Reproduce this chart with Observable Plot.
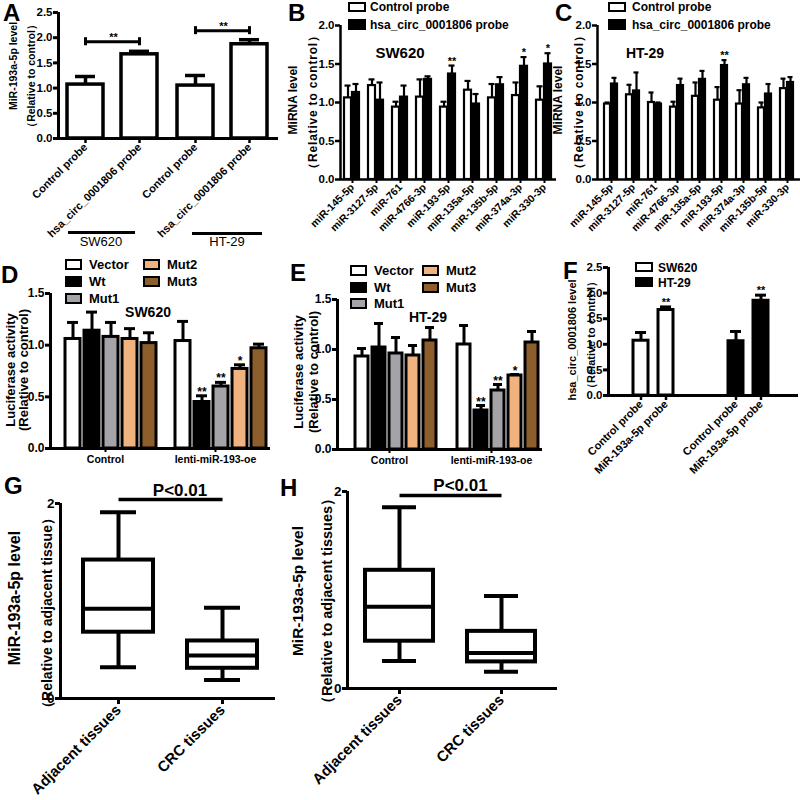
<!DOCTYPE html>
<html><head><meta charset="utf-8">
<script src="https://cdn.jsdelivr.net/npm/d3@7"></script>
<script src="https://cdn.jsdelivr.net/npm/@observablehq/plot@0.6"></script>
<style>
html,body{margin:0;padding:0;background:#fff;}
#fig{position:relative;width:800px;height:800px;overflow:hidden;background:#fff;font-family:"Liberation Sans",Arial,sans-serif;font-weight:bold;color:#000;}
#fig svg{position:absolute;overflow:visible;}
.t{position:absolute;white-space:nowrap;line-height:1;}
.sw{position:absolute;box-sizing:border-box;border:2.5px solid #000;}
.hl{position:absolute;background:#000;}
</style></head><body><div id="fig"></div>
<script>
// ================= DATA =================
// Panel A
const aGroups = ["SW620", "HT-29"];
const aProbes = ["Control probe", "hsa_circ_0001806 probe"];
const aMean = [1.07, 1.67, 1.05, 1.87];
const aErr = [0.16, 0.06, 0.20, 0.09];
const aBracketY = [1.92, 2.14];
const aBracketText = ["**", "**"];
const aYTicks = [0, 0.5, 1, 1.5, 2, 2.5];

// Panel B (SW620)
const bcProbes = ["Control probe", "hsa_circ_0001806 probe"];
const bMirs = ["miR-145-5p","miR-3127-5p","miR-761","miR-4766-3p","miR-193-5p","miR-135a-5p","miR-135b-5p","miR-374a-3p","miR-330-3p"];
const bCtrl = [1.06, 1.22, 0.94, 1.07, 0.94, 1.16, 1.06, 1.09, 1.03];
const bCtrlErr = [0.16, 0.08, 0.07, 0.23, 0.07, 0.12, 0.18, 0.17, 0.18];
const bProbe = [1.13, 1.03, 1.07, 1.30, 1.37, 0.98, 1.23, 1.47, 1.50];
const bProbeErr = [0.11, 0.23, 0.15, 0.04, 0.11, 0.13, 0.10, 0.12, 0.14];
const bStars = ["", "", "", "", "**", "", "", "*", "*"];

// Panel C (HT-29)
const cMirs = ["miR-145-5p","miR-3127-5p","miR-761","miR-4766-3p","miR-135a-5p","miR-193-5p","miR-374a-3p","miR-135b-5p","miR-330-3p"];
const cCtrl = [0.98, 1.10, 1.00, 0.94, 1.08, 1.03, 0.98, 0.93, 1.18];
const cCtrlErr = [0.02, 0.13, 0.13, 0.07, 0.18, 0.17, 0.18, 0.07, 0.13];
const cProbe = [1.24, 1.15, 0.98, 1.22, 1.30, 1.48, 1.23, 1.11, 1.26];
const cProbeErr = [0.08, 0.24, 0.02, 0.09, 0.11, 0.07, 0.09, 0.13, 0.07];
const cStars = ["", "", "", "", "", "**", "", "", ""];
const bcYTicks = [0, 0.5, 1, 1.5, 2];

// Panels D / E (luciferase)
const deGroups = ["Control", "lenti-miR-193-oe"];
const deSeries = ["Vector", "Wt", "Mut1", "Mut2", "Mut3"];
const deColors = ["#ffffff", "#000000", "#a3a3a8", "#f0b27e", "#8c5e2c"];
const dCtrl = [1.06, 1.14, 1.08, 1.06, 1.02];
const dCtrlErr = [0.16, 0.18, 0.14, 0.10, 0.10];
const dLenti = [1.04, 0.45, 0.60, 0.77, 0.97];
const dLentiErr = [0.19, 0.06, 0.04, 0.04, 0.04];
const eCtrl = [0.93, 1.02, 0.96, 0.94, 1.09];
const eCtrlErr = [0.08, 0.24, 0.16, 0.10, 0.13];
const eLenti = [1.05, 0.39, 0.59, 0.74, 1.07];
const eLentiErr = [0.19, 0.05, 0.06, 0.01, 0.11];
const deLentiStars = ["", "**", "**", "*", ""];
const deYTicks = [0, 0.5, 1, 1.5];

// Panel F
const fGroups = ["SW620", "HT-29"];
const fProbes = ["Control probe", "MiR-193a-5p probe"];
const fColors = ["#ffffff", "#000000"];
const fMean = [1.07, 1.67, 1.06, 1.85];
const fErr = [0.16, 0.06, 0.19, 0.11];
const fStars = ["", "**", "", "**"];
const fYTicks = [0, 0.5, 1, 1.5, 2, 2.5];

// Panels G / H (box plots)
const boxCats = ["Adjacent tissues", "CRC tissues"];
const gMin = [0.32, 0.19], gQ1 = [0.68, 0.31], gMed = [0.92, 0.44], gQ3 = [1.42, 0.59], gMax = [1.91, 0.93];
const hMin = [0.28, 0.17], hQ1 = [0.48, 0.27], hMed = [0.83, 0.36], hQ3 = [1.20, 0.58], hMax = [1.84, 0.94];
const ghYTicks = [0, 2];
const ghPText = "P<0.01";

// ================= HELPERS =================
const fig = document.getElementById("fig");
const STYLE = "background:transparent;overflow:visible;font-family:'Liberation Sans',Arial,sans-serif;font-weight:bold;color:#000;";
function put(node, left, top) { node.style.position = "absolute"; node.style.left = left + "px"; node.style.top = top + "px"; fig.appendChild(node); }
function dims(f) {
  return {width: f.x1 + f.mr - f.L, height: f.y1 + f.mb - f.T, marginLeft: f.x0 - f.L, marginRight: f.mr, marginTop: f.y0 - f.T, marginBottom: f.mb};
}
function txt(s, x, base, size, o = {}) {
  const d = document.createElement("div"); d.className = "t"; d.textContent = s;
  d.style.fontSize = size + "px"; d.style.fontWeight = o.weight || "bold";
  d.style.left = x + "px"; d.style.top = (base - 0.847 * size) + "px";
  if (o.anchor === "middle") d.style.transform = "translateX(-50%)";
  if (o.ls) d.style.letterSpacing = o.ls + "px";
  fig.appendChild(d);
}
function vtxt(s, cx, cy, size, o = {}) {
  const d = document.createElement("div"); d.className = "t"; d.textContent = s;
  d.style.fontSize = size + "px"; d.style.fontWeight = o.weight || "bold";
  d.style.left = cx + "px"; d.style.top = cy + "px";
  d.style.transform = "translate(-50%,-50%) rotate(-90deg)";
  if (o.ls) d.style.letterSpacing = o.ls + "px";
  fig.appendChild(d);
}
function swatch(x, y, w, h, color) {
  const d = document.createElement("div"); d.className = "sw";
  Object.assign(d.style, {left: x + "px", top: y + "px", width: w + "px", height: h + "px", background: color});
  fig.appendChild(d);
}
function hline(x1, x2, y, t) {
  const d = document.createElement("div"); d.className = "hl";
  Object.assign(d.style, {left: x1 + "px", top: (y - t / 2) + "px", width: (x2 - x1) + "px", height: t + "px"});
  fig.appendChild(d);
}
function axesOverlay(f, yDomain, ticks, fmt, fs, sw = 3) {
  const svg = Plot.plot({...dims(f), style: STYLE,
    x: {domain: [0, 1], axis: null}, y: {domain: yDomain},
    marks: [
      Plot.axisY({ticks, tickFormat: fmt, tickSize: 5, tickPadding: 1, fontSize: fs, fontWeight: "bold", strokeWidth: sw, label: null}),
      Plot.ruleX([0], {strokeWidth: sw}),
      Plot.ruleY([0], {strokeWidth: sw})
    ]});
  put(svg, f.L, f.T);
}
function barPanel(f, cfg) {
  const rows = cfg.rows;
  const top = d => d.mean + d.err;
  const svg = Plot.plot({...dims(f), style: STYLE,
    fx: cfg.fx, x: cfg.x, y: cfg.y, color: cfg.color,
    marks: [
      Plot.ruleX(rows, {fx: "group", x: "key", y1: "mean", y2: top, strokeWidth: cfg.sw}),
      Plot.tickY(rows, {fx: "group", x: "key", y: top, insetLeft: cfg.cap, insetRight: cfg.cap, strokeWidth: cfg.sw}),
      Plot.barY(rows, {fx: "group", x: "key", y: "mean", fill: cfg.fill, stroke: "black", strokeWidth: cfg.sw}),
      Plot.text(rows, {fx: "group", x: "key", y: top, text: "star", lineAnchor: "bottom", dy: cfg.starDy ?? -1, fontSize: cfg.starSize, fontWeight: "bold"}),
      ...(cfg.extra || []),
      ...cfg.axes
    ]});
  put(svg, f.L, f.T);
}
const fmt1 = d3.format(".1f");

// ================= PANEL A =================
const fA = {L: 0, T: 0, x0: 58, x1: 278, y0: 12, y1: 138, mr: 12, mb: 100};
const aRows = aGroups.flatMap((g, gi) => aProbes.map((p, pi) => ({group: g, key: p, mean: aMean[gi * 2 + pi], err: aErr[gi * 2 + pi], star: ""})));
const aBr = aGroups.map((g, i) => ({group: g, y: aBracketY[i], text: aBracketText[i]}));
const aCaps = aBr.flatMap(b => aProbes.map(p => ({...b, key: p})));
barPanel(fA, {rows: aRows, sw: 3.5, cap: 8, starSize: 11, fill: "white",
  fx: {domain: aGroups, padding: 0, axis: null},
  x: {domain: aProbes, paddingInner: 0.33, paddingOuter: 0.18, align: 0.45},
  y: {domain: [0, 2.5], axis: null},
  extra: [
    Plot.link(aBr, {fx: "group", x1: () => aProbes[0], x2: () => aProbes[1], y1: "y", y2: "y", strokeWidth: 3}),
    Plot.ruleX(aCaps, {fx: "group", x: "key", y1: d => d.y - 0.08, y2: d => d.y + 0.08, strokeWidth: 3}),
    Plot.text(aBr, {fx: "group", y: "y", text: "text", lineAnchor: "bottom", dy: -1, fontSize: 11, fontWeight: "bold"})
  ],
  axes: [Plot.axisX({tickRotate: -45, tickSize: 5, tickPadding: 2, fontSize: 11, fontWeight: "bold", strokeWidth: 2.5, label: null})]
});
axesOverlay(fA, [0, 2.5], aYTicks, fmt1, 11.5);
txt("A", 3, 21, 24);
vtxt("MiR-193a-5p level", 13, 66, 10.5);
vtxt("（Relative to control）", 31, 76, 10.5);
hline(68, 135, 232, 3); txt(aGroups[0], 101, 246, 13, {anchor: "middle", weight: "normal"});
hline(192, 262, 233, 3); txt(aGroups[1], 227, 246, 13, {anchor: "middle", weight: "normal"});

// ================= PANELS B / C =================
function pairRows(mirs, ctrl, ctrlErr, probe, probeErr, stars) {
  return mirs.flatMap((m, i) => [
    {group: m, key: bcProbes[0], mean: ctrl[i], err: ctrlErr[i], star: ""},
    {group: m, key: bcProbes[1], mean: probe[i], err: probeErr[i], star: stars[i]}
  ]);
}
function bcPanel(f, mirs, rows) {
  barPanel(f, {rows, sw: 2.2, cap: 0.5, starSize: 11, fill: "key",
    fx: {domain: mirs, padding: 0},
    x: {domain: bcProbes, paddingInner: 0.1, paddingOuter: 0.5, axis: null},
    y: {domain: [0, 2], axis: null},
    color: {domain: bcProbes, range: ["white", "black"]},
    axes: [Plot.axisFx({anchor: "bottom", tickRotate: -45, tickSize: 4, tickPadding: 2, fontSize: 10.5, fontWeight: "bold", strokeWidth: 2, label: null})]
  });
  axesOverlay(f, [0, 2], bcYTicks, fmt1, 11.5, 2.5);
}
const fB = {L: 290, T: 0, x0: 340, x1: 556, y0: 25, y1: 179, mr: 4, mb: 80};
bcPanel(fB, bMirs, pairRows(bMirs, bCtrl, bCtrlErr, bProbe, bProbeErr, bStars));
txt("B", 288, 21, 24);
swatch(348, 2, 18, 10, "white"); swatch(348, 19, 18, 11, "black");
txt(bcProbes[0], 370, 11, 12); txt(bcProbes[1], 370, 29, 12);
txt("SW620", 400, 58, 15, {anchor: "middle"});
vtxt("MiRNA level", 293, 100, 12);
vtxt("（Relative to control）", 313, 102, 12, {ls: 0.8});

const fC = {L: 550, T: 0, x0: 597, x1: 800, y0: 25, y1: 179, mr: 0, mb: 80};
bcPanel(fC, cMirs, pairRows(cMirs, cCtrl, cCtrlErr, cProbe, cProbeErr, cStars));
txt("C", 555, 21, 24);
swatch(608, 2, 18, 10, "white"); swatch(608, 19, 18, 11, "black");
txt(bcProbes[0], 632, 11, 12); txt(bcProbes[1], 632, 29, 12);
txt("HT-29", 645, 58, 14, {anchor: "middle"});
vtxt("MiRNA level", 558, 100, 12);
vtxt("（Relative to control）", 579, 102, 12, {ls: 0.8});

// ================= PANELS D / E =================
function deRows(ctrl, ctrlErr, lenti, lentiErr) {
  return deGroups.flatMap((g, gi) => deSeries.map((s, si) => ({
    group: g, key: s,
    mean: (gi ? lenti : ctrl)[si], err: (gi ? lentiErr : ctrlErr)[si],
    star: gi ? deLentiStars[si] : ""
  })));
}
function dePanel(f, rows, align) {
  barPanel(f, {rows, sw: 3, cap: 2, starSize: 12, starDy: 0, fill: "key",
    fx: {domain: deGroups, padding: 0},
    x: {domain: deSeries, paddingInner: 0.22, paddingOuter: 0.5, align, axis: null},
    y: {domain: [0, 1.5], axis: null},
    color: {domain: deSeries, range: deColors},
    axes: [Plot.axisFx({anchor: "bottom", tickSize: 4, tickPadding: 3, fontSize: 10.5, fontWeight: "bold", strokeWidth: 2, label: null})]
  });
  axesOverlay(f, [0, 1.5], deYTicks, fmt1, 12);
}
function deLegend(x1, x2, tops, textDx) {
  const cols = [[0, 1, 2], [3, 4]];
  cols[0].forEach((si, r) => { swatch(x1, tops[r], 17, 11, deColors[si]); txt(deSeries[si], x1 + textDx, tops[r] + 10.5, 13); });
  cols[1].forEach((si, r) => { swatch(x2, tops[r], 17, 11, deColors[si]); txt(deSeries[si], x2 + textDx, tops[r] + 10.5, 13); });
}
const fD = {L: 0, T: 270, x0: 50, x1: 270, y0: 293, y1: 448, mr: 5, mb: 25};
dePanel(fD, deRows(dCtrl, dCtrlErr, dLenti, dLentiErr), 0.8);
txt("D", 1, 283, 24);
deLegend(65, 143, [259, 276, 293], 24);
txt("SW620", 148, 317, 14, {anchor: "middle"});
vtxt("Luciferase activity", 10, 370, 13);
vtxt("(Relative to control)", 23, 370, 13);

const fE = {L: 290, T: 270, x0: 337, x1: 542, y0: 299, y1: 449, mr: 5, mb: 25};
dePanel(fE, deRows(eCtrl, eCtrlErr, eLenti, eLentiErr), 0.8);
txt("E", 290, 281, 24);
deLegend(350, 422, [265, 282, 298], 24);
txt("HT-29", 428, 322, 14, {anchor: "middle"});
vtxt("Luciferase activity", 298, 372, 13);
vtxt("(Relative to control)", 313, 372, 13);

// ================= PANEL F =================
const fF = {L: 560, T: 250, x0: 608, x1: 798, y0: 267, y1: 395, mr: 2, mb: 70};
const fRows = fGroups.flatMap((g, gi) => fProbes.map((p, pi) => ({group: g, key: p, mean: fMean[gi * 2 + pi], err: fErr[gi * 2 + pi], star: fStars[gi * 2 + pi]})));
barPanel(fF, {rows: fRows, sw: 3, cap: 2, starSize: 11, fill: "group",
  fx: {domain: fGroups, padding: 0, axis: null},
  x: {domain: fProbes, paddingInner: 0.4, paddingOuter: 1.1, align: 0.45},
  y: {domain: [0, 2.5], axis: null},
  color: {domain: fGroups, range: fColors},
  axes: [Plot.axisX({tickRotate: -45, tickSize: 5, tickPadding: 2, fontSize: 11, fontWeight: "bold", strokeWidth: 2.5, label: null})]
});
axesOverlay(fF, [0, 2.5], fYTicks, fmt1, 11.5);
txt("F", 563, 279, 24);
swatch(635, 262, 18, 10, fColors[0]); swatch(635, 277, 18, 10, fColors[1]);
txt(fGroups[0], 658, 272, 12); txt(fGroups[1], 658, 287, 12);
vtxt("hsa_circ_0001806 level", 572, 340, 11);
vtxt("（Relative to control）", 591, 335, 11);

// ================= PANELS G / H =================
function boxPanel(f, mins, q1s, meds, q3s, maxs, bracketY, textDx, align) {
  const stats = boxCats.map((c, i) => ({cat: c, min: mins[i], q1: q1s[i], med: meds[i], q3: q3s[i], max: maxs[i]}));
  const br = [{y: bracketY, text: ghPText}];
  const svg = Plot.plot({...dims(f), style: STYLE,
    x: {domain: boxCats, paddingInner: 0.33, paddingOuter: 0.19, align},
    y: {domain: [0, 2], axis: null},
    marks: [
      Plot.ruleX(stats, {x: "cat", y1: "min", y2: "q1", strokeWidth: 4}),
      Plot.ruleX(stats, {x: "cat", y1: "q3", y2: "max", strokeWidth: 4}),
      Plot.tickY(stats, {x: "cat", y: "min", insetLeft: 17, insetRight: 17, strokeWidth: 4}),
      Plot.tickY(stats, {x: "cat", y: "max", insetLeft: 17, insetRight: 17, strokeWidth: 4}),
      Plot.barY(stats, {x: "cat", y1: "q1", y2: "q3", fill: "white", stroke: "black", strokeWidth: 4}),
      Plot.tickY(stats, {x: "cat", y: "med", strokeWidth: 4}),
      Plot.link(br, {x1: () => boxCats[0], x2: () => boxCats[1], y1: "y", y2: "y", strokeWidth: 3.5}),
      Plot.text(br, {y: "y", text: "text", dx: textDx, dy: -4, lineAnchor: "bottom", fontSize: 17, fontWeight: "bold"}),
      Plot.axisX({tickRotate: -45, tickSize: 6, tickPadding: 3, fontSize: 15, fontWeight: "bold", strokeWidth: 3, label: null})
    ]});
  put(svg, f.L, f.T);
  axesOverlay(f, [0, 2], ghYTicks, d3.format("d"), 13.5);
}
const fG = {L: 0, T: 480, x0: 60, x1: 275, y0: 503, y1: 698, mr: 5, mb: 102};
boxPanel(fG, gMin, gQ1, gMed, gQ3, gMax, 2.04, 12, 0.55);
txt("G", 4, 494, 24);
vtxt("MiR-193a-5p level", 15, 598, 16);
vtxt("（Relative to adjacent tissue）", 47, 613, 14);

const fH = {L: 290, T: 470, x0: 347, x1: 557, y0: 491, y1: 688, mr: 5, mb: 112};
boxPanel(fH, hMin, hQ1, hMed, hQ3, hMax, 1.96, 8, 0.45);
txt("H", 280, 496, 24);
vtxt("MiR-193a-5p level", 298, 591, 15.5);
vtxt("（Relative to adjacent tissues）", 327, 601, 14.5);
</script></body></html>
